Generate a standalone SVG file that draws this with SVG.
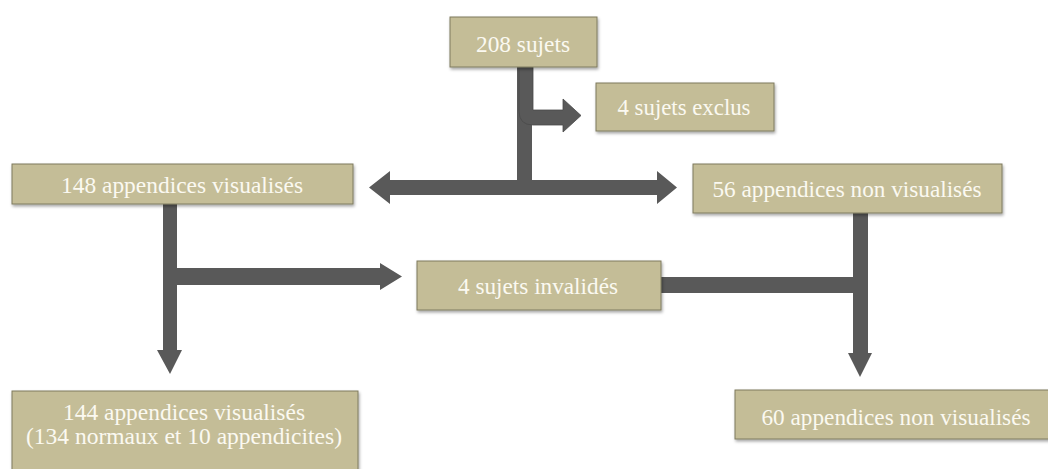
<svg xmlns="http://www.w3.org/2000/svg" width="1048" height="469" viewBox="0 0 1048 469">
<defs>
<filter id="sh" x="-5%" y="-10%" width="115%" height="130%">
<feDropShadow dx="1" dy="2" stdDeviation="1.5" flood-color="#000" flood-opacity="0.35"/>
</filter>
</defs>
<style>
.box{fill:#c4bd97;stroke:#7f7a5e;stroke-width:1;filter:url(#sh)}
.t{font-family:"Liberation Serif","DejaVu Serif",serif;font-size:24px;fill:#fbf9f1;text-anchor:middle}
.arr{fill:#595959}
.bent{fill:#595959;stroke:#4a4a4a;stroke-width:0.8}
</style>
<rect width="1048" height="469" fill="#ffffff"/>
<g id="connectors">
<path class="arr" d="M517 67 H532 V180 H657 V171 L677 187.5 L657 204 V195 H390 V204 L369 187.5 L390 171 V180 H517 Z"/>
<path class="bent" d="M519 67 H533 V110 H563 V99 L581 115.5 L563 132 V125 H533 Q519 125 519 111 Z"/>
<path class="arr" d="M163 204 H177 V268 H380 V263 L402 276.5 L380 290 V285 H177 V350 H182 L170 374 L157 350 H163 Z"/>
<path class="arr" d="M853 213 H868 V353 H872 L860 377 L848 353 H853 V293 H661 V277 H853 Z"/>
</g>
<g id="n208">
<rect class="box" x="450" y="17" width="147" height="50"/>
<text class="t" x="523" y="52" textLength="94" lengthAdjust="spacingAndGlyphs">208 sujets</text>
</g>
<g id="nexclus">
<rect class="box" x="596" y="83" width="178" height="48"/>
<text class="t" x="684" y="115" textLength="133" lengthAdjust="spacingAndGlyphs">4 sujets exclus</text>
</g>
<g id="n148">
<rect class="box" x="12" y="164" width="341" height="40"/>
<text class="t" x="182" y="193" textLength="242" lengthAdjust="spacingAndGlyphs">148 appendices visualisés</text>
</g>
<g id="n56">
<rect class="box" x="693" y="164" width="309" height="49"/>
<text class="t" x="847" y="197" textLength="269" lengthAdjust="spacingAndGlyphs">56 appendices non visualisés</text>
</g>
<g id="ninvalides">
<rect class="box" x="417" y="261" width="244" height="49"/>
<text class="t" x="538" y="294" textLength="160" lengthAdjust="spacingAndGlyphs">4 sujets invalidés</text>
</g>
<g id="n144">
<rect class="box" x="12" y="391" width="346" height="85"/>
<text class="t" x="184" y="420" textLength="242" lengthAdjust="spacingAndGlyphs">144 appendices visualisés</text>
<text class="t" x="184" y="444" textLength="316" lengthAdjust="spacingAndGlyphs">(134 normaux et 10 appendicites)</text>
</g>
<g id="n60">
<rect class="box" x="735" y="390" width="320" height="49"/>
<text class="t" x="896" y="425" textLength="269" lengthAdjust="spacingAndGlyphs">60 appendices non visualisés</text>
</g>
</svg>
